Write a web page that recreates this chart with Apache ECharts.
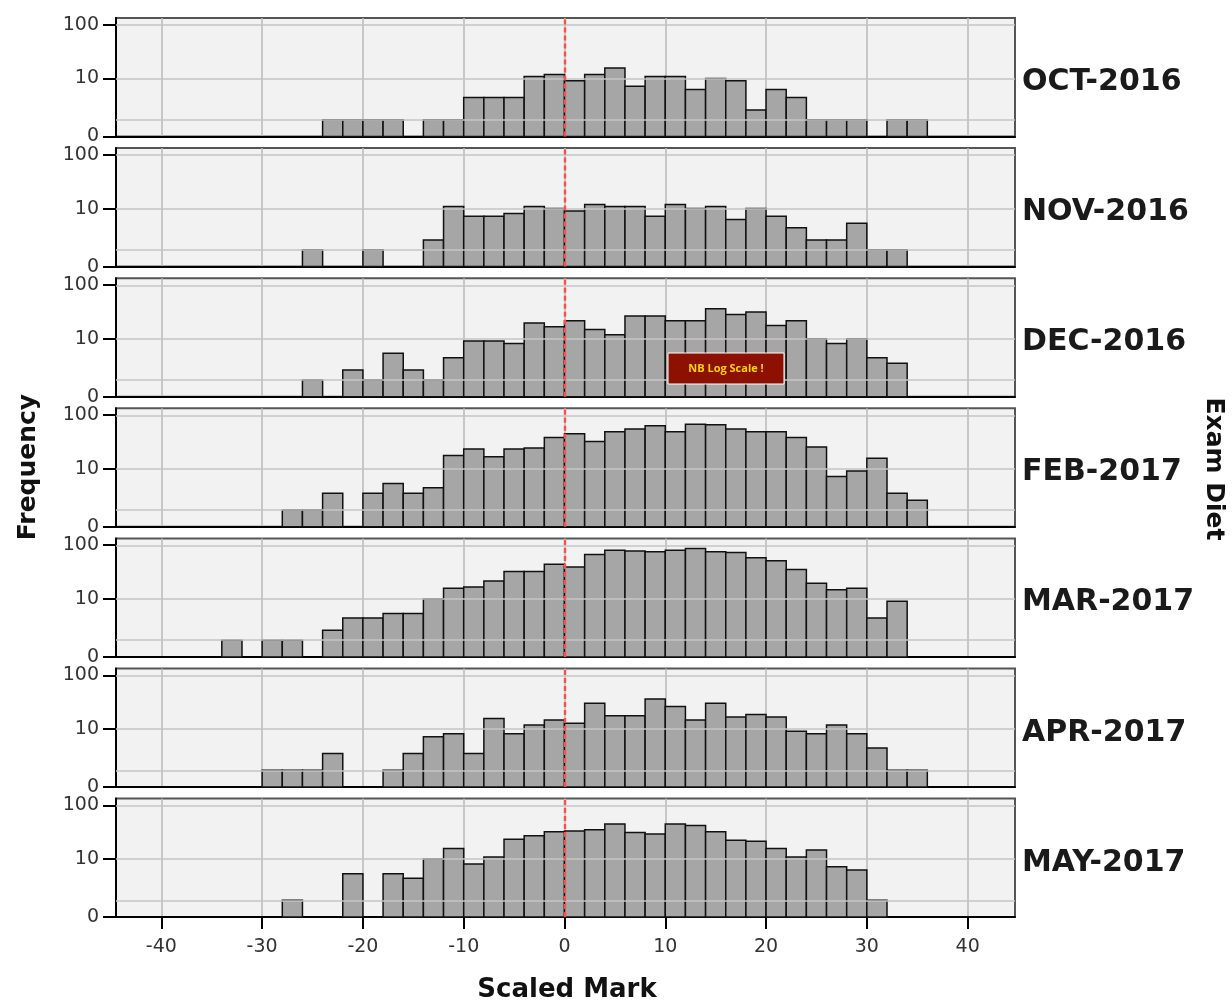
<!DOCTYPE html>
<html><head><meta charset="utf-8">
<script src="https://cdn.jsdelivr.net/npm/echarts@6/dist/echarts.min.js"></script>
<style>html,body{margin:0;padding:0;background:#fff}#c{width:1232px;height:1003px}</style>
</head><body><div id="c"></div>
<script>
// Histogram bins: first bin starts at -34, each bin is 2 marks wide
const binStart = -34;
const binWidth = 2;
const diets = ['OCT-2016','NOV-2016','DEC-2016','FEB-2017','MAR-2017','APR-2017','MAY-2017'];
const oct2016 = [0,0,0,0,0, 1,1,1,1,0, 1,1,4,4,4, 11,12,9,12,16, 7,11,11,6,10, 9,2,6,4,1, 1,1,0,1,1];
const nov2016 = [0,0,0,0,1, 0,0,1,0,0, 2,11,7,7,8, 11,10,9,12,11, 11,7,12,10,11, 6,10,7,4,2, 2,5,1,1,0];
const dec2016 = [0,0,0,0,1, 0,2,1,5,2, 1,4,9,9,8, 20,17,22,15,12, 27,27,22,22,37, 29,32,18,22,10, 8,10,4,3,0];
const feb2017 = [0,0,0,1,1, 3,0,3,5,3, 4,18,24,17,24, 25,39,46,33,50, 56,64,50,68,67, 56,50,50,39,26, 7,9,16,3,2];
const mar2017 = [1,0,1,1,0, 2,4,4,5,5, 10,16,17,22,33, 33,45,40,68,81, 79,76,81,87,76, 74,59,52,36,20, 15,16,4,9,0];
const apr2017 = [0,0,1,1,1, 3,0,0,1,3, 7,8,3,16,8, 12,15,13,31,18, 18,37,27,15,31, 17,19,17,9,8, 12,8,4,1,1];
const may2017 = [0,0,0,1,0, 0,5,0,5,4, 10,16,8,11,24, 28,33,34,36,46, 32,30,46,43,33, 23,22,16,11,15, 7,6,1,0,0];
const counts = [oct2016, nov2016, dec2016, feb2017, mar2017, apr2017, may2017];
const xTicks = [-40,-30,-20,-10,0,10,20,30,40];
const yTickLabels = [0, 10, 100];
const yGridValues = [1, 10, 100];
const xMin = -44.5, xMax = 44.7, yMaxCount = 133;

// safe log scale: log10(count + 1)
const f = v => Math.log10(v + 1);

const chart = echarts.init(document.getElementById('c'));
const grids = [], xAxes = [], yAxes = [], series = [], graphics = [];
const LEFT = 116, WIDTH = 899, TOP0 = 18, STEP = 130.1, H = 118.5;
const FONT = 'DejaVu Sans';

diets.forEach((name, i) => {
  const last = i === diets.length - 1;
  grids.push({left: LEFT, width: WIDTH, top: TOP0 + STEP * i, height: H, show: true,
    backgroundColor: '#f2f2f2', borderColor: '#555', borderWidth: 2, containLabel: false, outerBoundsMode: 'none'});
  xAxes.push({type: 'value', gridIndex: i, min: xMin, max: xMax,
    axisLine: {show: true, onZero: false, lineStyle: {color: '#000', width: 2}},
    axisTick: {show: last, length: 12, customValues: xTicks, lineStyle: {color: '#000', width: 2}},
    axisLabel: {show: last, customValues: xTicks, margin: 20, fontFamily: FONT, fontSize: 19, color: '#333',
      formatter: v => String(v)},
    splitLine: {show: true, lineStyle: {color: '#b8b8b8', width: 1.5}}});
  yAxes.push({type: 'value', gridIndex: i, min: 0, max: f(yMaxCount),
    axisLine: {show: true, onZero: false, lineStyle: {color: '#000', width: 2}},
    axisTick: {show: true, length: 13, customValues: yTickLabels.map(f), lineStyle: {color: '#000', width: 2}},
    axisLabel: {show: true, customValues: yTickLabels.map(f), margin: 17, fontFamily: FONT, fontSize: 19, color: '#333',
      formatter: v => String(Math.round(Math.pow(10, v) - 1))},
    splitLine: {show: false}});
  // horizontal grid lines at 1, 10, 100
  series.push({type: 'line', xAxisIndex: i, yAxisIndex: i, data: [], z: 1, silent: true,
    markLine: {silent: true, symbol: 'none', label: {show: false}, animation: false,
      lineStyle: {color: '#c4c4c4', width: 1.5, type: 'solid'},
      data: yGridValues.map(v => ({yAxis: f(v)}))}});
  const data = [];
  counts[i].forEach((c, k) => {
    if (c > 0) { const x0 = binStart + k * binWidth; data.push([x0, x0 + binWidth, f(c), c]); }
  });
  series.push({type: 'custom', xAxisIndex: i, yAxisIndex: i, z: 2, data: data,
    encode: {x: [0, 1], y: 2},
    renderItem: (params, api) => {
      const p0 = api.coord([api.value(0), api.value(2)]);
      const p1 = api.coord([api.value(1), 0]);
      return {type: 'rect', shape: {x: p0[0], y: p0[1], width: p1[0] - p0[0], height: p1[1] - p0[1]},
        style: {fill: '#a6a6a6', stroke: '#111', lineWidth: 1.5}};
    }});
  // red dashed reference line at 0
  series.push({type: 'line', xAxisIndex: i, yAxisIndex: i, data: [], z: 5, silent: true,
    markLine: {silent: true, symbol: 'none', label: {show: false}, animation: false,
      lineStyle: {color: '#ff4d4d', width: 2.4, type: [5, 3]},
      data: [{xAxis: 0}]}});
  graphics.push({type: 'text', x: 1022, y: TOP0 + STEP * i + H / 2 + 5,
    style: {text: name, font: 'bold 30px ' + FONT, fill: '#1a1a1a', verticalAlign: 'middle'}});
});

graphics.push({type: 'text', x: 28, y: 467, rotation: Math.PI / 2,
  style: {text: 'Frequency', font: 'bold 25px ' + FONT, fill: '#111', align: 'center', verticalAlign: 'middle'}});
graphics.push({type: 'text', x: 1213, y: 469, rotation: -Math.PI / 2,
  style: {text: 'Exam Diet', font: 'bold 25px ' + FONT, fill: '#111', align: 'center', verticalAlign: 'middle'}});
graphics.push({type: 'text', x: 567, y: 990,
  style: {text: 'Scaled Mark', font: 'bold 26px ' + FONT, fill: '#111', align: 'center', verticalAlign: 'middle'}});
graphics.push({type: 'rect', x: 668, y: 353, z: 50, shape: {x: 0, y: 0, width: 116, height: 31},
  style: {fill: '#8c1100', stroke: '#ffffff', lineWidth: 1}});
graphics.push({type: 'text', x: 726, y: 368.5, z: 51,
  style: {text: 'NB Log Scale !', font: 'bold 11px "Open Sans"', fill: '#ffd400', align: 'center', verticalAlign: 'middle'}});

chart.setOption({animation: false, backgroundColor: '#fff', grid: grids, xAxis: xAxes, yAxis: yAxes, series: series, graphic: graphics});
</script></body></html>
